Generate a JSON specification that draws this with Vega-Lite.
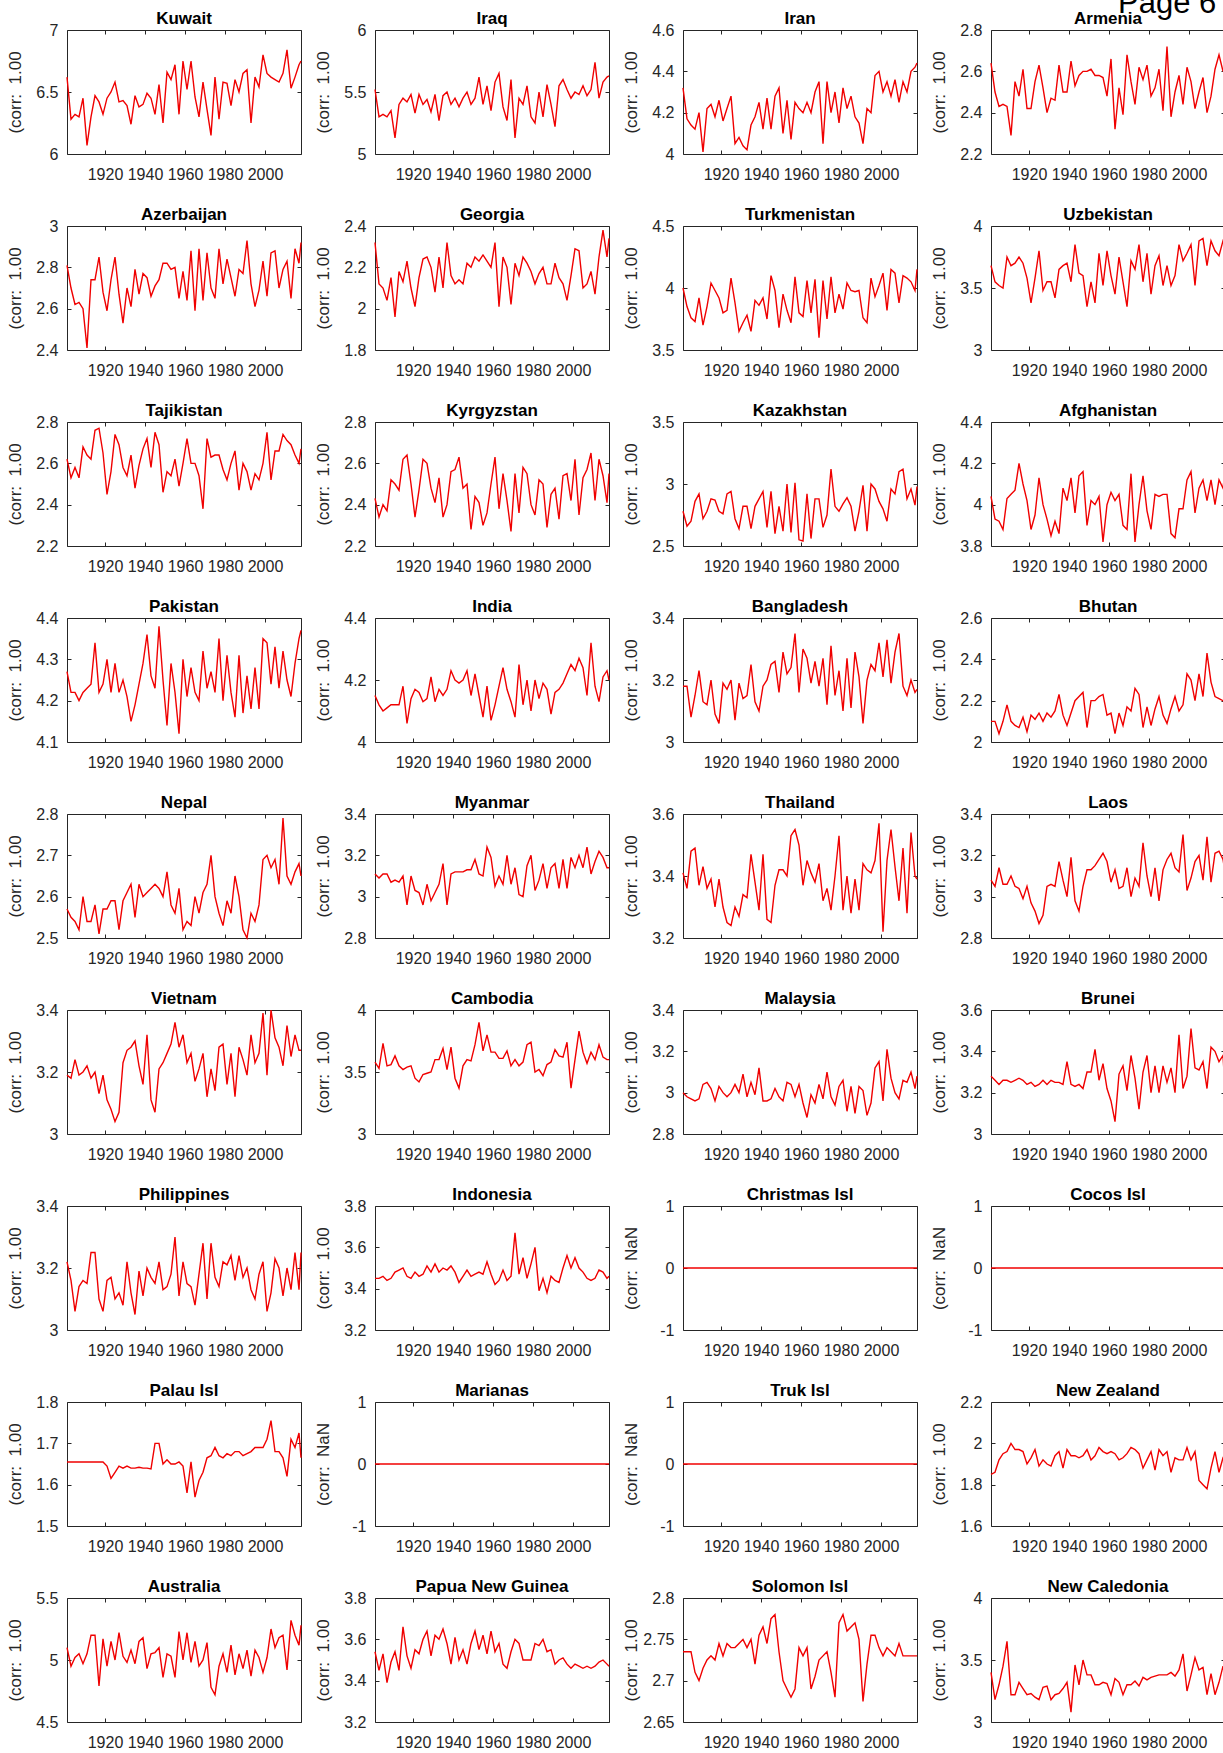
{
  "$schema": "https://vega.github.io/schema/vega-lite/v6.json",
  "padding": {"left": 5, "top": -13, "right": 0, "bottom": 0},
  "title": {"text": "Page 6", "anchor": "end", "fontSize": 31, "fontWeight": "normal", "font": "Liberation Sans", "color": "black", "baseline": "alphabetic", "offset": -5, "dx": -12, "dy": 29},
  "data": {"values": [
    {"c": "Kuwait", "y": [1901,1903,1905,1907,1909,1911,1913,1915,1917,1919,1921,1923,1925,1927,1929,1931,1933,1935,1937,1939,1941,1943,1945,1947,1949,1951,1953,1955,1957,1959,1961,1963,1965,1967,1969,1971,1973,1975,1977,1979,1981,1983,1985,1987,1989,1991,1993,1995,1997,1999,2001,2003,2005,2007,2009,2011,2013,2015,2017,2018],
     "v": [6.62,6.28,6.32,6.30,6.45,6.07,6.30,6.47,6.42,6.32,6.45,6.50,6.58,6.42,6.43,6.39,6.24,6.47,6.38,6.40,6.49,6.45,6.32,6.56,6.25,6.66,6.60,6.72,6.32,6.75,6.52,6.75,6.46,6.30,6.58,6.36,6.15,6.62,6.28,6.58,6.57,6.39,6.60,6.50,6.65,6.68,6.25,6.62,6.54,6.80,6.65,6.62,6.60,6.58,6.65,6.84,6.53,6.62,6.72,6.75]},
    {"c": "Iraq", "y": [1901,1903,1905,1907,1909,1911,1913,1915,1917,1919,1921,1923,1925,1927,1929,1931,1933,1935,1937,1939,1941,1943,1945,1947,1949,1951,1953,1955,1957,1959,1961,1963,1965,1967,1969,1971,1973,1975,1977,1979,1981,1983,1985,1987,1989,1991,1993,1995,1997,1999,2001,2003,2005,2007,2009,2011,2013,2015,2017,2018],
     "v": [5.52,5.30,5.32,5.30,5.35,5.13,5.40,5.45,5.42,5.48,5.33,5.48,5.40,5.44,5.34,5.48,5.27,5.47,5.50,5.40,5.45,5.38,5.45,5.50,5.40,5.45,5.62,5.40,5.55,5.35,5.58,5.65,5.38,5.27,5.60,5.13,5.45,5.40,5.55,5.30,5.25,5.50,5.30,5.56,5.40,5.22,5.55,5.60,5.52,5.45,5.50,5.48,5.55,5.47,5.52,5.74,5.45,5.58,5.62,5.63]},
    {"c": "Iran", "y": [1901,1903,1905,1907,1909,1911,1913,1915,1917,1919,1921,1923,1925,1927,1929,1931,1933,1935,1937,1939,1941,1943,1945,1947,1949,1951,1953,1955,1957,1959,1961,1963,1965,1967,1969,1971,1973,1975,1977,1979,1981,1983,1985,1987,1989,1991,1993,1995,1997,1999,2001,2003,2005,2007,2009,2011,2013,2015,2017,2018],
     "v": [4.32,4.17,4.14,4.12,4.20,4.01,4.22,4.24,4.18,4.26,4.16,4.22,4.28,4.05,4.08,4.04,4.02,4.14,4.18,4.25,4.12,4.27,4.12,4.28,4.32,4.10,4.26,4.07,4.25,4.22,4.20,4.25,4.20,4.30,4.35,4.05,4.35,4.20,4.30,4.15,4.32,4.22,4.28,4.18,4.15,4.05,4.22,4.20,4.38,4.40,4.30,4.35,4.28,4.36,4.25,4.35,4.30,4.40,4.42,4.44]},
    {"c": "Armenia", "y": [1901,1903,1905,1907,1909,1911,1913,1915,1917,1919,1921,1923,1925,1927,1929,1931,1933,1935,1937,1939,1941,1943,1945,1947,1949,1951,1953,1955,1957,1959,1961,1963,1965,1967,1969,1971,1973,1975,1977,1979,1981,1983,1985,1987,1989,1991,1993,1995,1997,1999,2001,2003,2005,2007,2009,2011,2013,2015,2017,2018],
     "v": [2.64,2.50,2.43,2.44,2.43,2.29,2.55,2.48,2.61,2.42,2.42,2.55,2.63,2.52,2.40,2.47,2.46,2.63,2.50,2.50,2.65,2.53,2.58,2.60,2.60,2.61,2.58,2.58,2.57,2.48,2.66,2.32,2.52,2.39,2.68,2.55,2.44,2.62,2.56,2.63,2.48,2.52,2.61,2.41,2.72,2.38,2.50,2.58,2.44,2.62,2.55,2.42,2.50,2.57,2.40,2.48,2.61,2.68,2.60,2.65]},
    {"c": "Azerbaijan", "y": [1901,1903,1905,1907,1909,1911,1913,1915,1917,1919,1921,1923,1925,1927,1929,1931,1933,1935,1937,1939,1941,1943,1945,1947,1949,1951,1953,1955,1957,1959,1961,1963,1965,1967,1969,1971,1973,1975,1977,1979,1981,1983,1985,1987,1989,1991,1993,1995,1997,1999,2001,2003,2005,2007,2009,2011,2013,2015,2017,2018],
     "v": [2.81,2.70,2.62,2.63,2.60,2.41,2.74,2.74,2.85,2.68,2.59,2.74,2.85,2.67,2.53,2.70,2.61,2.79,2.67,2.77,2.75,2.66,2.71,2.74,2.82,2.82,2.79,2.80,2.65,2.78,2.64,2.88,2.59,2.89,2.64,2.87,2.70,2.65,2.89,2.72,2.84,2.75,2.66,2.79,2.77,2.93,2.72,2.61,2.69,2.83,2.66,2.87,2.88,2.70,2.79,2.83,2.65,2.89,2.82,2.92]},
    {"c": "Georgia", "y": [1901,1903,1905,1907,1909,1911,1913,1915,1917,1919,1921,1923,1925,1927,1929,1931,1933,1935,1937,1939,1941,1943,1945,1947,1949,1951,1953,1955,1957,1959,1961,1963,1965,1967,1969,1971,1973,1975,1977,1979,1981,1983,1985,1987,1989,1991,1993,1995,1997,1999,2001,2003,2005,2007,2009,2011,2013,2015,2017,2018],
     "v": [2.32,2.12,2.10,2.04,2.15,1.96,2.18,2.13,2.23,2.10,2.01,2.15,2.24,2.25,2.20,2.08,2.25,2.10,2.32,2.16,2.12,2.14,2.12,2.22,2.20,2.25,2.23,2.26,2.23,2.20,2.32,2.01,2.25,2.20,2.02,2.22,2.16,2.25,2.22,2.18,2.12,2.17,2.20,2.12,2.12,2.22,2.15,2.12,2.04,2.16,2.29,2.28,2.10,2.12,2.18,2.07,2.25,2.38,2.25,2.34]},
    {"c": "Turkmenistan", "y": [1901,1903,1905,1907,1909,1911,1913,1915,1917,1919,1921,1923,1925,1927,1929,1931,1933,1935,1937,1939,1941,1943,1945,1947,1949,1951,1953,1955,1957,1959,1961,1963,1965,1967,1969,1971,1973,1975,1977,1979,1981,1983,1985,1987,1989,1991,1993,1995,1997,1999,2001,2003,2005,2007,2009,2011,2013,2015,2017,2018],
     "v": [4.00,3.85,3.76,3.73,3.92,3.70,3.85,4.04,3.98,3.92,3.80,3.82,4.08,3.88,3.65,3.72,3.78,3.65,3.90,3.86,3.92,3.75,4.10,3.98,3.68,3.95,3.82,3.72,4.09,3.80,3.77,4.06,3.80,4.07,3.60,4.06,3.75,4.09,3.80,3.95,3.83,4.04,3.98,3.97,3.98,3.76,3.72,4.08,3.93,4.02,4.12,3.82,4.15,4.12,3.88,4.10,4.08,4.05,3.98,4.15]},
    {"c": "Uzbekistan", "y": [1901,1903,1905,1907,1909,1911,1913,1915,1917,1919,1921,1923,1925,1927,1929,1931,1933,1935,1937,1939,1941,1943,1945,1947,1949,1951,1953,1955,1957,1959,1961,1963,1965,1967,1969,1971,1973,1975,1977,1979,1981,1983,1985,1987,1989,1991,1993,1995,1997,1999,2001,2003,2005,2007,2009,2011,2013,2015,2017,2018],
     "v": [3.68,3.55,3.52,3.50,3.75,3.68,3.70,3.75,3.70,3.58,3.38,3.58,3.80,3.48,3.55,3.55,3.42,3.65,3.68,3.70,3.55,3.85,3.62,3.60,3.35,3.55,3.38,3.78,3.52,3.80,3.60,3.45,3.75,3.55,3.35,3.72,3.65,3.85,3.55,3.78,3.45,3.68,3.76,3.52,3.68,3.52,3.60,3.85,3.72,3.78,3.85,3.52,3.88,3.90,3.68,3.88,3.80,3.76,3.88,3.85]},
    {"c": "Tajikistan", "y": [1901,1903,1905,1907,1909,1911,1913,1915,1917,1919,1921,1923,1925,1927,1929,1931,1933,1935,1937,1939,1941,1943,1945,1947,1949,1951,1953,1955,1957,1959,1961,1963,1965,1967,1969,1971,1973,1975,1977,1979,1981,1983,1985,1987,1989,1991,1993,1995,1997,1999,2001,2003,2005,2007,2009,2011,2013,2015,2017,2018],
     "v": [2.62,2.53,2.58,2.53,2.68,2.64,2.62,2.76,2.77,2.65,2.45,2.56,2.74,2.69,2.58,2.54,2.64,2.48,2.59,2.67,2.72,2.58,2.75,2.69,2.46,2.56,2.54,2.62,2.49,2.60,2.72,2.60,2.60,2.54,2.38,2.72,2.63,2.64,2.64,2.57,2.52,2.60,2.66,2.47,2.60,2.56,2.47,2.55,2.52,2.60,2.75,2.52,2.66,2.66,2.74,2.71,2.69,2.64,2.60,2.67]},
    {"c": "Kyrgyzstan", "y": [1901,1903,1905,1907,1909,1911,1913,1915,1917,1919,1921,1923,1925,1927,1929,1931,1933,1935,1937,1939,1941,1943,1945,1947,1949,1951,1953,1955,1957,1959,1961,1963,1965,1967,1969,1971,1973,1975,1977,1979,1981,1983,1985,1987,1989,1991,1993,1995,1997,1999,2001,2003,2005,2007,2009,2011,2013,2015,2017,2018],
     "v": [2.43,2.34,2.40,2.37,2.52,2.50,2.47,2.62,2.64,2.50,2.34,2.47,2.62,2.60,2.48,2.41,2.53,2.34,2.40,2.56,2.57,2.63,2.48,2.50,2.28,2.44,2.41,2.30,2.36,2.50,2.63,2.38,2.55,2.42,2.27,2.55,2.36,2.58,2.55,2.40,2.35,2.52,2.50,2.29,2.45,2.48,2.33,2.54,2.55,2.42,2.62,2.35,2.53,2.57,2.65,2.42,2.62,2.54,2.41,2.55]},
    {"c": "Kazakhstan", "y": [1901,1903,1905,1907,1909,1911,1913,1915,1917,1919,1921,1923,1925,1927,1929,1931,1933,1935,1937,1939,1941,1943,1945,1947,1949,1951,1953,1955,1957,1959,1961,1963,1965,1967,1969,1971,1973,1975,1977,1979,1981,1983,1985,1987,1989,1991,1993,1995,1997,1999,2001,2003,2005,2007,2009,2011,2013,2015,2017,2018],
     "v": [2.78,2.66,2.70,2.86,2.92,2.72,2.78,2.88,2.87,2.78,2.76,2.92,2.94,2.72,2.64,2.82,2.82,2.64,2.82,2.88,2.94,2.65,2.94,2.60,2.82,2.62,3.00,2.61,3.01,2.55,2.54,2.92,2.56,2.88,2.88,2.65,2.75,3.12,2.82,2.78,2.84,2.89,2.82,2.62,2.78,2.99,2.62,3.00,2.96,2.86,2.80,2.70,2.96,2.92,3.10,3.12,2.88,2.96,2.83,2.98]},
    {"c": "Afghanistan", "y": [1901,1903,1905,1907,1909,1911,1913,1915,1917,1919,1921,1923,1925,1927,1929,1931,1933,1935,1937,1939,1941,1943,1945,1947,1949,1951,1953,1955,1957,1959,1961,1963,1965,1967,1969,1971,1973,1975,1977,1979,1981,1983,1985,1987,1989,1991,1993,1995,1997,1999,2001,2003,2005,2007,2009,2011,2013,2015,2017,2018],
     "v": [4.04,3.93,3.92,3.88,4.03,4.05,4.07,4.20,4.10,4.02,3.88,3.95,4.13,4.00,3.93,3.85,3.92,3.86,4.08,4.02,4.13,3.96,4.14,4.16,3.90,4.02,4.00,4.04,3.82,4.00,4.06,4.02,4.05,3.90,3.88,4.15,3.82,4.00,4.14,3.97,3.88,4.05,4.04,4.05,4.05,3.86,3.84,3.98,3.98,4.12,4.16,3.96,4.08,4.12,4.02,4.12,4.00,4.12,4.08,4.16]},
    {"c": "Pakistan", "y": [1901,1903,1905,1907,1909,1911,1913,1915,1917,1919,1921,1923,1925,1927,1929,1931,1933,1935,1937,1939,1941,1943,1945,1947,1949,1951,1953,1955,1957,1959,1961,1963,1965,1967,1969,1971,1973,1975,1977,1979,1981,1983,1985,1987,1989,1991,1993,1995,1997,1999,2001,2003,2005,2007,2009,2011,2013,2015,2017,2018],
     "v": [4.27,4.22,4.22,4.20,4.22,4.23,4.24,4.34,4.22,4.24,4.30,4.22,4.29,4.22,4.25,4.21,4.15,4.19,4.24,4.29,4.36,4.26,4.23,4.38,4.25,4.14,4.29,4.22,4.12,4.30,4.21,4.28,4.22,4.20,4.32,4.23,4.27,4.22,4.35,4.20,4.31,4.22,4.16,4.31,4.17,4.26,4.18,4.28,4.18,4.35,4.34,4.24,4.33,4.23,4.32,4.25,4.21,4.29,4.35,4.37]},
    {"c": "India", "y": [1901,1903,1905,1907,1909,1911,1913,1915,1917,1919,1921,1923,1925,1927,1929,1931,1933,1935,1937,1939,1941,1943,1945,1947,1949,1951,1953,1955,1957,1959,1961,1963,1965,1967,1969,1971,1973,1975,1977,1979,1981,1983,1985,1987,1989,1991,1993,1995,1997,1999,2001,2003,2005,2007,2009,2011,2013,2015,2017,2018],
     "v": [4.15,4.12,4.10,4.11,4.12,4.12,4.12,4.18,4.06,4.14,4.17,4.16,4.13,4.14,4.21,4.13,4.17,4.15,4.17,4.23,4.20,4.19,4.20,4.23,4.15,4.22,4.15,4.08,4.18,4.07,4.12,4.18,4.24,4.17,4.13,4.08,4.25,4.12,4.20,4.10,4.20,4.14,4.19,4.17,4.09,4.16,4.17,4.19,4.22,4.25,4.23,4.27,4.24,4.15,4.32,4.18,4.13,4.21,4.23,4.20]},
    {"c": "Bangladesh", "y": [1901,1903,1905,1907,1909,1911,1913,1915,1917,1919,1921,1923,1925,1927,1929,1931,1933,1935,1937,1939,1941,1943,1945,1947,1949,1951,1953,1955,1957,1959,1961,1963,1965,1967,1969,1971,1973,1975,1977,1979,1981,1983,1985,1987,1989,1991,1993,1995,1997,1999,2001,2003,2005,2007,2009,2011,2013,2015,2017,2018],
     "v": [3.18,3.18,3.08,3.15,3.23,3.13,3.12,3.20,3.09,3.06,3.19,3.17,3.20,3.07,3.19,3.14,3.15,3.25,3.13,3.10,3.18,3.20,3.25,3.26,3.16,3.29,3.22,3.24,3.35,3.16,3.30,3.27,3.19,3.26,3.18,3.27,3.12,3.31,3.15,3.23,3.10,3.27,3.11,3.29,3.21,3.06,3.20,3.25,3.23,3.32,3.21,3.33,3.19,3.29,3.35,3.18,3.15,3.20,3.16,3.17]},
    {"c": "Bhutan", "y": [1901,1903,1905,1907,1909,1911,1913,1915,1917,1919,1921,1923,1925,1927,1929,1931,1933,1935,1937,1939,1941,1943,1945,1947,1949,1951,1953,1955,1957,1959,1961,1963,1965,1967,1969,1971,1973,1975,1977,1979,1981,1983,1985,1987,1989,1991,1993,1995,1997,1999,2001,2003,2005,2007,2009,2011,2013,2015,2017,2018],
     "v": [2.10,2.10,2.04,2.10,2.18,2.10,2.08,2.07,2.12,2.05,2.13,2.11,2.14,2.10,2.14,2.12,2.15,2.23,2.13,2.08,2.14,2.20,2.22,2.24,2.07,2.20,2.20,2.22,2.23,2.13,2.14,2.04,2.14,2.08,2.17,2.15,2.26,2.23,2.07,2.17,2.08,2.16,2.22,2.13,2.09,2.16,2.22,2.15,2.18,2.33,2.30,2.20,2.33,2.22,2.43,2.29,2.22,2.21,2.20,2.19]},
    {"c": "Nepal", "y": [1901,1903,1905,1907,1909,1911,1913,1915,1917,1919,1921,1923,1925,1927,1929,1931,1933,1935,1937,1939,1941,1943,1945,1947,1949,1951,1953,1955,1957,1959,1961,1963,1965,1967,1969,1971,1973,1975,1977,1979,1981,1983,1985,1987,1989,1991,1993,1995,1997,1999,2001,2003,2005,2007,2009,2011,2013,2015,2017,2018],
     "v": [2.57,2.55,2.54,2.52,2.60,2.54,2.54,2.58,2.51,2.57,2.57,2.59,2.59,2.52,2.59,2.61,2.63,2.55,2.63,2.60,2.61,2.62,2.63,2.62,2.60,2.66,2.58,2.56,2.62,2.52,2.54,2.53,2.60,2.56,2.61,2.63,2.70,2.60,2.56,2.53,2.59,2.56,2.65,2.60,2.52,2.50,2.56,2.54,2.58,2.69,2.70,2.67,2.69,2.63,2.79,2.65,2.63,2.66,2.68,2.65]},
    {"c": "Myanmar", "y": [1901,1903,1905,1907,1909,1911,1913,1915,1917,1919,1921,1923,1925,1927,1929,1931,1933,1935,1937,1939,1941,1943,1945,1947,1949,1951,1953,1955,1957,1959,1961,1963,1965,1967,1969,1971,1973,1975,1977,1979,1981,1983,1985,1987,1989,1991,1993,1995,1997,1999,2001,2003,2005,2007,2009,2011,2013,2015,2017,2018],
     "v": [3.11,3.09,3.11,3.11,3.07,3.08,3.07,3.10,2.96,3.10,3.03,3.02,2.96,3.06,2.98,3.02,3.06,3.16,2.96,3.11,3.12,3.12,3.12,3.13,3.13,3.18,3.11,3.10,3.24,3.19,3.05,3.10,3.06,3.20,3.06,3.14,3.01,3.00,3.15,3.20,3.03,3.08,3.16,3.04,3.14,3.16,3.04,3.18,3.04,3.19,3.14,3.20,3.14,3.24,3.11,3.17,3.22,3.19,3.14,3.14]},
    {"c": "Thailand", "y": [1901,1903,1905,1907,1909,1911,1913,1915,1917,1919,1921,1923,1925,1927,1929,1931,1933,1935,1937,1939,1941,1943,1945,1947,1949,1951,1953,1955,1957,1959,1961,1963,1965,1967,1969,1971,1973,1975,1977,1979,1981,1983,1985,1987,1989,1991,1993,1995,1997,1999,2001,2003,2005,2007,2009,2011,2013,2015,2017,2018],
     "v": [3.41,3.36,3.48,3.49,3.37,3.43,3.36,3.39,3.30,3.39,3.30,3.25,3.24,3.30,3.27,3.34,3.33,3.47,3.38,3.29,3.47,3.26,3.25,3.37,3.42,3.42,3.40,3.53,3.55,3.50,3.37,3.45,3.41,3.38,3.44,3.32,3.36,3.29,3.40,3.53,3.29,3.40,3.28,3.39,3.29,3.44,3.42,3.41,3.45,3.57,3.22,3.45,3.55,3.43,3.32,3.49,3.28,3.54,3.40,3.39]},
    {"c": "Laos", "y": [1901,1903,1905,1907,1909,1911,1913,1915,1917,1919,1921,1923,1925,1927,1929,1931,1933,1935,1937,1939,1941,1943,1945,1947,1949,1951,1953,1955,1957,1959,1961,1963,1965,1967,1969,1971,1973,1975,1977,1979,1981,1983,1985,1987,1989,1991,1993,1995,1997,1999,2001,2003,2005,2007,2009,2011,2013,2015,2017,2018],
     "v": [3.08,3.05,3.14,3.06,3.06,3.10,3.05,3.04,2.99,3.05,2.97,2.93,2.87,2.91,3.05,3.06,3.05,3.17,3.08,3.00,3.19,2.98,2.93,3.05,3.13,3.13,3.15,3.18,3.21,3.17,3.07,3.13,3.04,3.05,3.14,3.00,3.09,3.05,3.26,3.10,3.00,3.14,2.98,3.13,3.18,3.21,3.14,3.12,3.30,3.03,3.09,3.17,3.20,3.08,3.29,3.07,3.21,3.22,3.18,3.12]},
    {"c": "Vietnam", "y": [1901,1903,1905,1907,1909,1911,1913,1915,1917,1919,1921,1923,1925,1927,1929,1931,1933,1935,1937,1939,1941,1943,1945,1947,1949,1951,1953,1955,1957,1959,1961,1963,1965,1967,1969,1971,1973,1975,1977,1979,1981,1983,1985,1987,1989,1991,1993,1995,1997,1999,2001,2003,2005,2007,2009,2011,2013,2015,2017,2018],
     "v": [3.19,3.18,3.24,3.19,3.20,3.22,3.18,3.20,3.13,3.19,3.11,3.08,3.04,3.07,3.23,3.27,3.28,3.30,3.22,3.16,3.32,3.11,3.07,3.21,3.23,3.26,3.29,3.36,3.28,3.32,3.23,3.26,3.17,3.21,3.26,3.12,3.21,3.14,3.28,3.29,3.16,3.26,3.12,3.28,3.24,3.19,3.32,3.23,3.26,3.39,3.19,3.40,3.31,3.28,3.22,3.35,3.25,3.32,3.27,3.27]},
    {"c": "Cambodia", "y": [1901,1903,1905,1907,1909,1911,1913,1915,1917,1919,1921,1923,1925,1927,1929,1931,1933,1935,1937,1939,1941,1943,1945,1947,1949,1951,1953,1955,1957,1959,1961,1963,1965,1967,1969,1971,1973,1975,1977,1979,1981,1983,1985,1987,1989,1991,1993,1995,1997,1999,2001,2003,2005,2007,2009,2011,2013,2015,2017,2018],
     "v": [3.58,3.53,3.73,3.55,3.56,3.63,3.55,3.52,3.54,3.55,3.45,3.42,3.48,3.49,3.50,3.60,3.60,3.69,3.52,3.70,3.45,3.37,3.55,3.60,3.59,3.72,3.90,3.67,3.80,3.66,3.66,3.61,3.61,3.67,3.55,3.60,3.55,3.58,3.72,3.74,3.50,3.52,3.47,3.56,3.58,3.68,3.63,3.62,3.74,3.37,3.60,3.83,3.66,3.57,3.66,3.60,3.72,3.62,3.60,3.60]},
    {"c": "Malaysia", "y": [1901,1903,1905,1907,1909,1911,1913,1915,1917,1919,1921,1923,1925,1927,1929,1931,1933,1935,1937,1939,1941,1943,1945,1947,1949,1951,1953,1955,1957,1959,1961,1963,1965,1967,1969,1971,1973,1975,1977,1979,1981,1983,1985,1987,1989,1991,1993,1995,1997,1999,2001,2003,2005,2007,2009,2011,2013,2015,2017,2018],
     "v": [3.00,2.98,2.97,2.96,2.97,3.04,3.05,3.02,2.96,3.03,3.00,2.98,3.00,3.04,3.00,3.09,2.98,3.05,2.99,3.12,2.96,2.96,2.97,3.02,2.98,2.96,3.05,3.04,2.98,3.04,2.95,2.88,2.99,2.95,3.04,2.97,3.10,2.98,2.94,3.03,3.06,2.91,3.03,2.90,3.03,3.01,2.89,2.95,3.12,3.15,2.96,3.21,3.07,3.00,2.97,3.06,3.05,3.10,3.02,3.08]},
    {"c": "Brunei", "y": [1901,1903,1905,1907,1909,1911,1913,1915,1917,1919,1921,1923,1925,1927,1929,1931,1933,1935,1937,1939,1941,1943,1945,1947,1949,1951,1953,1955,1957,1959,1961,1963,1965,1967,1969,1971,1973,1975,1977,1979,1981,1983,1985,1987,1989,1991,1993,1995,1997,1999,2001,2003,2005,2007,2009,2011,2013,2015,2017,2018],
     "v": [3.28,3.26,3.24,3.26,3.26,3.25,3.26,3.27,3.26,3.24,3.25,3.23,3.24,3.26,3.24,3.26,3.25,3.25,3.24,3.35,3.24,3.23,3.24,3.22,3.30,3.30,3.41,3.26,3.34,3.22,3.16,3.06,3.29,3.33,3.21,3.38,3.27,3.12,3.30,3.38,3.20,3.33,3.20,3.33,3.25,3.32,3.20,3.48,3.22,3.28,3.51,3.32,3.31,3.35,3.22,3.42,3.40,3.35,3.38,3.22]},
    {"c": "Philippines", "y": [1901,1903,1905,1907,1909,1911,1913,1915,1917,1919,1921,1923,1925,1927,1929,1931,1933,1935,1937,1939,1941,1943,1945,1947,1949,1951,1953,1955,1957,1959,1961,1963,1965,1967,1969,1971,1973,1975,1977,1979,1981,1983,1985,1987,1989,1991,1993,1995,1997,1999,2001,2003,2005,2007,2009,2011,2013,2015,2017,2018],
     "v": [3.22,3.16,3.06,3.14,3.16,3.15,3.25,3.25,3.10,3.06,3.16,3.17,3.10,3.12,3.08,3.22,3.12,3.05,3.19,3.11,3.20,3.17,3.15,3.22,3.13,3.14,3.18,3.30,3.11,3.22,3.15,3.14,3.08,3.18,3.28,3.10,3.28,3.17,3.14,3.22,3.21,3.24,3.16,3.24,3.17,3.20,3.13,3.10,3.18,3.22,3.06,3.12,3.23,3.20,3.11,3.20,3.13,3.25,3.13,3.25]},
    {"c": "Indonesia", "y": [1901,1903,1905,1907,1909,1911,1913,1915,1917,1919,1921,1923,1925,1927,1929,1931,1933,1935,1937,1939,1941,1943,1945,1947,1949,1951,1953,1955,1957,1959,1961,1963,1965,1967,1969,1971,1973,1975,1977,1979,1981,1983,1985,1987,1989,1991,1993,1995,1997,1999,2001,2003,2005,2007,2009,2011,2013,2015,2017,2018],
     "v": [3.45,3.45,3.46,3.44,3.45,3.48,3.49,3.50,3.46,3.45,3.48,3.46,3.47,3.51,3.48,3.52,3.48,3.50,3.49,3.51,3.48,3.43,3.46,3.49,3.46,3.47,3.48,3.47,3.53,3.47,3.42,3.44,3.49,3.44,3.46,3.67,3.47,3.55,3.45,3.52,3.60,3.39,3.45,3.38,3.46,3.44,3.43,3.50,3.56,3.50,3.55,3.50,3.48,3.45,3.44,3.45,3.49,3.48,3.45,3.46]},
    {"c": "Christmas Isl", "y": [1901,2018], "v": [0,0]},
    {"c": "Cocos Isl", "y": [1901,2018], "v": [0,0]},
    {"c": "Palau Isl", "y": [1901,1903,1905,1907,1909,1911,1913,1915,1917,1919,1921,1923,1925,1927,1929,1931,1933,1935,1937,1939,1941,1943,1945,1947,1949,1951,1953,1955,1957,1959,1961,1963,1965,1967,1969,1971,1973,1975,1977,1979,1981,1983,1985,1987,1989,1991,1993,1995,1997,1999,2001,2003,2005,2007,2009,2011,2013,2015,2017,2018],
     "v": [1.655,1.655,1.655,1.655,1.655,1.655,1.655,1.655,1.655,1.655,1.645,1.615,1.63,1.645,1.64,1.645,1.64,1.64,1.642,1.64,1.64,1.638,1.70,1.70,1.65,1.66,1.65,1.65,1.655,1.645,1.58,1.655,1.57,1.61,1.63,1.665,1.67,1.69,1.67,1.665,1.675,1.67,1.68,1.68,1.67,1.675,1.68,1.69,1.69,1.69,1.71,1.755,1.68,1.68,1.665,1.62,1.71,1.69,1.725,1.665]},
    {"c": "Marianas", "y": [1901,2018], "v": [0,0]},
    {"c": "Truk Isl", "y": [1901,2018], "v": [0,0]},
    {"c": "New Zealand", "y": [1901,1903,1905,1907,1909,1911,1913,1915,1917,1919,1921,1923,1925,1927,1929,1931,1933,1935,1937,1939,1941,1943,1945,1947,1949,1951,1953,1955,1957,1959,1961,1963,1965,1967,1969,1971,1973,1975,1977,1979,1981,1983,1985,1987,1989,1991,1993,1995,1997,1999,2001,2003,2005,2007,2009,2011,2013,2015,2017,2018],
     "v": [1.85,1.86,1.92,1.95,1.96,2.00,1.97,1.97,1.96,1.90,1.93,1.97,1.89,1.92,1.90,1.89,1.94,1.96,1.88,1.97,1.94,1.94,1.93,1.94,1.97,1.92,1.94,1.98,1.96,1.95,1.96,1.95,1.92,1.93,1.95,1.98,1.97,1.95,1.88,1.92,1.96,1.87,1.97,1.94,1.96,1.86,1.93,1.92,1.92,1.98,1.92,1.96,1.82,1.80,1.78,1.88,1.96,1.86,1.93,1.95]},
    {"c": "Australia", "y": [1901,1903,1905,1907,1909,1911,1913,1915,1917,1919,1921,1923,1925,1927,1929,1931,1933,1935,1937,1939,1941,1943,1945,1947,1949,1951,1953,1955,1957,1959,1961,1963,1965,1967,1969,1971,1973,1975,1977,1979,1981,1983,1985,1987,1989,1991,1993,1995,1997,1999,2001,2003,2005,2007,2009,2011,2013,2015,2017,2018],
     "v": [5.10,4.95,5.02,5.05,4.97,5.05,5.20,5.20,4.79,5.17,4.95,5.15,5.00,5.22,5.03,4.98,5.08,4.97,5.15,5.18,4.93,5.05,5.06,5.10,4.86,5.05,5.03,4.86,5.23,5.00,5.22,4.98,5.15,4.95,5.00,5.14,4.78,4.72,4.95,5.05,4.90,5.12,4.88,5.05,4.93,5.08,4.87,5.08,5.02,4.90,5.02,5.25,5.10,5.18,5.20,4.92,5.32,5.20,5.12,5.28]},
    {"c": "Papua New Guinea", "y": [1901,1903,1905,1907,1909,1911,1913,1915,1917,1919,1921,1923,1925,1927,1929,1931,1933,1935,1937,1939,1941,1943,1945,1947,1949,1951,1953,1955,1957,1959,1961,1963,1965,1967,1969,1971,1973,1975,1977,1979,1981,1983,1985,1987,1989,1991,1993,1995,1997,1999,2001,2003,2005,2007,2009,2011,2013,2015,2017,2018],
     "v": [3.54,3.45,3.53,3.39,3.49,3.54,3.45,3.66,3.52,3.46,3.55,3.53,3.60,3.64,3.52,3.62,3.60,3.65,3.58,3.48,3.61,3.50,3.55,3.48,3.58,3.64,3.55,3.62,3.53,3.64,3.54,3.58,3.48,3.46,3.54,3.60,3.58,3.50,3.50,3.50,3.58,3.57,3.60,3.54,3.55,3.48,3.50,3.51,3.48,3.46,3.48,3.47,3.46,3.47,3.46,3.47,3.49,3.50,3.48,3.47]},
    {"c": "Solomon Isl", "y": [1901,1903,1905,1907,1909,1911,1913,1915,1917,1919,1921,1923,1925,1927,1929,1931,1933,1935,1937,1939,1941,1943,1945,1947,1949,1951,1953,1955,1957,1959,1961,1963,1965,1967,1969,1971,1973,1975,1977,1979,1981,1983,1985,1987,1989,1991,1993,1995,1997,1999,2001,2003,2005,2007,2009,2011,2013,2015,2017,2018],
     "v": [2.735,2.735,2.735,2.71,2.70,2.715,2.725,2.73,2.725,2.745,2.73,2.745,2.74,2.74,2.745,2.75,2.74,2.75,2.72,2.755,2.765,2.745,2.775,2.78,2.735,2.70,2.69,2.68,2.69,2.74,2.73,2.74,2.69,2.705,2.725,2.73,2.735,2.71,2.68,2.77,2.78,2.76,2.765,2.77,2.75,2.675,2.72,2.755,2.755,2.74,2.73,2.74,2.735,2.73,2.745,2.73,2.73,2.73,2.73,2.73]},
    {"c": "New Caledonia", "y": [1901,1903,1905,1907,1909,1911,1913,1915,1917,1919,1921,1923,1925,1927,1929,1931,1933,1935,1937,1939,1941,1943,1945,1947,1949,1951,1953,1955,1957,1959,1961,1963,1965,1967,1969,1971,1973,1975,1977,1979,1981,1983,1985,1987,1989,1991,1993,1995,1997,1999,2001,2003,2005,2007,2009,2011,2013,2015,2017,2018],
     "v": [3.40,3.18,3.30,3.45,3.65,3.22,3.22,3.32,3.27,3.22,3.23,3.20,3.18,3.28,3.29,3.18,3.22,3.23,3.27,3.32,3.08,3.46,3.30,3.50,3.38,3.38,3.30,3.30,3.32,3.31,3.22,3.35,3.32,3.22,3.30,3.30,3.33,3.29,3.36,3.34,3.36,3.37,3.38,3.38,3.38,3.40,3.37,3.42,3.55,3.25,3.38,3.52,3.42,3.44,3.22,3.39,3.22,3.32,3.45,3.36]}
  ]},
  "columns": 4,
  "spacing": {"row": 22, "column": 8},
  "concat": [
    {"title": "Kuwait", "transform": [{"filter": "datum.c == 'Kuwait'"}, {"flatten": ["y", "v"]}], "mark": "line",
     "encoding": {"x": {"field": "y", "type": "quantitative", "title": null, "scale": {"domain": [1901, 2018]}},
                  "y": {"field": "v", "type": "quantitative", "title": "(corr: \u00a01.00", "scale": {"domain": [6, 7]}, "axis": {"values": [6, 6.5, 7]}}}},
    {"title": "Iraq", "transform": [{"filter": "datum.c == 'Iraq'"}, {"flatten": ["y", "v"]}], "mark": "line",
     "encoding": {"x": {"field": "y", "type": "quantitative", "title": null, "scale": {"domain": [1901, 2018]}},
                  "y": {"field": "v", "type": "quantitative", "title": "(corr: \u00a01.00", "scale": {"domain": [5, 6]}, "axis": {"values": [5, 5.5, 6]}}}},
    {"title": "Iran", "transform": [{"filter": "datum.c == 'Iran'"}, {"flatten": ["y", "v"]}], "mark": "line",
     "encoding": {"x": {"field": "y", "type": "quantitative", "title": null, "scale": {"domain": [1901, 2018]}},
                  "y": {"field": "v", "type": "quantitative", "title": "(corr: \u00a01.00", "scale": {"domain": [4, 4.6]}, "axis": {"values": [4, 4.2, 4.4, 4.6]}}}},
    {"title": "Armenia", "transform": [{"filter": "datum.c == 'Armenia'"}, {"flatten": ["y", "v"]}], "mark": "line",
     "encoding": {"x": {"field": "y", "type": "quantitative", "title": null, "scale": {"domain": [1901, 2018]}},
                  "y": {"field": "v", "type": "quantitative", "title": "(corr: \u00a01.00", "scale": {"domain": [2.2, 2.8]}, "axis": {"values": [2.2, 2.4, 2.6, 2.8]}}}},
    {"title": "Azerbaijan", "transform": [{"filter": "datum.c == 'Azerbaijan'"}, {"flatten": ["y", "v"]}], "mark": "line",
     "encoding": {"x": {"field": "y", "type": "quantitative", "title": null, "scale": {"domain": [1901, 2018]}},
                  "y": {"field": "v", "type": "quantitative", "title": "(corr: \u00a01.00", "scale": {"domain": [2.4, 3]}, "axis": {"values": [2.4, 2.6, 2.8, 3]}}}},
    {"title": "Georgia", "transform": [{"filter": "datum.c == 'Georgia'"}, {"flatten": ["y", "v"]}], "mark": "line",
     "encoding": {"x": {"field": "y", "type": "quantitative", "title": null, "scale": {"domain": [1901, 2018]}},
                  "y": {"field": "v", "type": "quantitative", "title": "(corr: \u00a01.00", "scale": {"domain": [1.8, 2.4]}, "axis": {"values": [1.8, 2, 2.2, 2.4]}}}},
    {"title": "Turkmenistan", "transform": [{"filter": "datum.c == 'Turkmenistan'"}, {"flatten": ["y", "v"]}], "mark": "line",
     "encoding": {"x": {"field": "y", "type": "quantitative", "title": null, "scale": {"domain": [1901, 2018]}},
                  "y": {"field": "v", "type": "quantitative", "title": "(corr: \u00a01.00", "scale": {"domain": [3.5, 4.5]}, "axis": {"values": [3.5, 4, 4.5]}}}},
    {"title": "Uzbekistan", "transform": [{"filter": "datum.c == 'Uzbekistan'"}, {"flatten": ["y", "v"]}], "mark": "line",
     "encoding": {"x": {"field": "y", "type": "quantitative", "title": null, "scale": {"domain": [1901, 2018]}},
                  "y": {"field": "v", "type": "quantitative", "title": "(corr: \u00a01.00", "scale": {"domain": [3, 4]}, "axis": {"values": [3, 3.5, 4]}}}},
    {"title": "Tajikistan", "transform": [{"filter": "datum.c == 'Tajikistan'"}, {"flatten": ["y", "v"]}], "mark": "line",
     "encoding": {"x": {"field": "y", "type": "quantitative", "title": null, "scale": {"domain": [1901, 2018]}},
                  "y": {"field": "v", "type": "quantitative", "title": "(corr: \u00a01.00", "scale": {"domain": [2.2, 2.8]}, "axis": {"values": [2.2, 2.4, 2.6, 2.8]}}}},
    {"title": "Kyrgyzstan", "transform": [{"filter": "datum.c == 'Kyrgyzstan'"}, {"flatten": ["y", "v"]}], "mark": "line",
     "encoding": {"x": {"field": "y", "type": "quantitative", "title": null, "scale": {"domain": [1901, 2018]}},
                  "y": {"field": "v", "type": "quantitative", "title": "(corr: \u00a01.00", "scale": {"domain": [2.2, 2.8]}, "axis": {"values": [2.2, 2.4, 2.6, 2.8]}}}},
    {"title": "Kazakhstan", "transform": [{"filter": "datum.c == 'Kazakhstan'"}, {"flatten": ["y", "v"]}], "mark": "line",
     "encoding": {"x": {"field": "y", "type": "quantitative", "title": null, "scale": {"domain": [1901, 2018]}},
                  "y": {"field": "v", "type": "quantitative", "title": "(corr: \u00a01.00", "scale": {"domain": [2.5, 3.5]}, "axis": {"values": [2.5, 3, 3.5]}}}},
    {"title": "Afghanistan", "transform": [{"filter": "datum.c == 'Afghanistan'"}, {"flatten": ["y", "v"]}], "mark": "line",
     "encoding": {"x": {"field": "y", "type": "quantitative", "title": null, "scale": {"domain": [1901, 2018]}},
                  "y": {"field": "v", "type": "quantitative", "title": "(corr: \u00a01.00", "scale": {"domain": [3.8, 4.4]}, "axis": {"values": [3.8, 4, 4.2, 4.4]}}}},
    {"title": "Pakistan", "transform": [{"filter": "datum.c == 'Pakistan'"}, {"flatten": ["y", "v"]}], "mark": "line",
     "encoding": {"x": {"field": "y", "type": "quantitative", "title": null, "scale": {"domain": [1901, 2018]}},
                  "y": {"field": "v", "type": "quantitative", "title": "(corr: \u00a01.00", "scale": {"domain": [4.1, 4.4]}, "axis": {"values": [4.1, 4.2, 4.3, 4.4]}}}},
    {"title": "India", "transform": [{"filter": "datum.c == 'India'"}, {"flatten": ["y", "v"]}], "mark": "line",
     "encoding": {"x": {"field": "y", "type": "quantitative", "title": null, "scale": {"domain": [1901, 2018]}},
                  "y": {"field": "v", "type": "quantitative", "title": "(corr: \u00a01.00", "scale": {"domain": [4, 4.4]}, "axis": {"values": [4, 4.2, 4.4]}}}},
    {"title": "Bangladesh", "transform": [{"filter": "datum.c == 'Bangladesh'"}, {"flatten": ["y", "v"]}], "mark": "line",
     "encoding": {"x": {"field": "y", "type": "quantitative", "title": null, "scale": {"domain": [1901, 2018]}},
                  "y": {"field": "v", "type": "quantitative", "title": "(corr: \u00a01.00", "scale": {"domain": [3, 3.4]}, "axis": {"values": [3, 3.2, 3.4]}}}},
    {"title": "Bhutan", "transform": [{"filter": "datum.c == 'Bhutan'"}, {"flatten": ["y", "v"]}], "mark": "line",
     "encoding": {"x": {"field": "y", "type": "quantitative", "title": null, "scale": {"domain": [1901, 2018]}},
                  "y": {"field": "v", "type": "quantitative", "title": "(corr: \u00a01.00", "scale": {"domain": [2, 2.6]}, "axis": {"values": [2, 2.2, 2.4, 2.6]}}}},
    {"title": "Nepal", "transform": [{"filter": "datum.c == 'Nepal'"}, {"flatten": ["y", "v"]}], "mark": "line",
     "encoding": {"x": {"field": "y", "type": "quantitative", "title": null, "scale": {"domain": [1901, 2018]}},
                  "y": {"field": "v", "type": "quantitative", "title": "(corr: \u00a01.00", "scale": {"domain": [2.5, 2.8]}, "axis": {"values": [2.5, 2.6, 2.7, 2.8]}}}},
    {"title": "Myanmar", "transform": [{"filter": "datum.c == 'Myanmar'"}, {"flatten": ["y", "v"]}], "mark": "line",
     "encoding": {"x": {"field": "y", "type": "quantitative", "title": null, "scale": {"domain": [1901, 2018]}},
                  "y": {"field": "v", "type": "quantitative", "title": "(corr: \u00a01.00", "scale": {"domain": [2.8, 3.4]}, "axis": {"values": [2.8, 3, 3.2, 3.4]}}}},
    {"title": "Thailand", "transform": [{"filter": "datum.c == 'Thailand'"}, {"flatten": ["y", "v"]}], "mark": "line",
     "encoding": {"x": {"field": "y", "type": "quantitative", "title": null, "scale": {"domain": [1901, 2018]}},
                  "y": {"field": "v", "type": "quantitative", "title": "(corr: \u00a01.00", "scale": {"domain": [3.2, 3.6]}, "axis": {"values": [3.2, 3.4, 3.6]}}}},
    {"title": "Laos", "transform": [{"filter": "datum.c == 'Laos'"}, {"flatten": ["y", "v"]}], "mark": "line",
     "encoding": {"x": {"field": "y", "type": "quantitative", "title": null, "scale": {"domain": [1901, 2018]}},
                  "y": {"field": "v", "type": "quantitative", "title": "(corr: \u00a01.00", "scale": {"domain": [2.8, 3.4]}, "axis": {"values": [2.8, 3, 3.2, 3.4]}}}},
    {"title": "Vietnam", "transform": [{"filter": "datum.c == 'Vietnam'"}, {"flatten": ["y", "v"]}], "mark": "line",
     "encoding": {"x": {"field": "y", "type": "quantitative", "title": null, "scale": {"domain": [1901, 2018]}},
                  "y": {"field": "v", "type": "quantitative", "title": "(corr: \u00a01.00", "scale": {"domain": [3, 3.4]}, "axis": {"values": [3, 3.2, 3.4]}}}},
    {"title": "Cambodia", "transform": [{"filter": "datum.c == 'Cambodia'"}, {"flatten": ["y", "v"]}], "mark": "line",
     "encoding": {"x": {"field": "y", "type": "quantitative", "title": null, "scale": {"domain": [1901, 2018]}},
                  "y": {"field": "v", "type": "quantitative", "title": "(corr: \u00a01.00", "scale": {"domain": [3, 4]}, "axis": {"values": [3, 3.5, 4]}}}},
    {"title": "Malaysia", "transform": [{"filter": "datum.c == 'Malaysia'"}, {"flatten": ["y", "v"]}], "mark": "line",
     "encoding": {"x": {"field": "y", "type": "quantitative", "title": null, "scale": {"domain": [1901, 2018]}},
                  "y": {"field": "v", "type": "quantitative", "title": "(corr: \u00a01.00", "scale": {"domain": [2.8, 3.4]}, "axis": {"values": [2.8, 3, 3.2, 3.4]}}}},
    {"title": "Brunei", "transform": [{"filter": "datum.c == 'Brunei'"}, {"flatten": ["y", "v"]}], "mark": "line",
     "encoding": {"x": {"field": "y", "type": "quantitative", "title": null, "scale": {"domain": [1901, 2018]}},
                  "y": {"field": "v", "type": "quantitative", "title": "(corr: \u00a01.00", "scale": {"domain": [3, 3.6]}, "axis": {"values": [3, 3.2, 3.4, 3.6]}}}},
    {"title": "Philippines", "transform": [{"filter": "datum.c == 'Philippines'"}, {"flatten": ["y", "v"]}], "mark": "line",
     "encoding": {"x": {"field": "y", "type": "quantitative", "title": null, "scale": {"domain": [1901, 2018]}},
                  "y": {"field": "v", "type": "quantitative", "title": "(corr: \u00a01.00", "scale": {"domain": [3, 3.4]}, "axis": {"values": [3, 3.2, 3.4]}}}},
    {"title": "Indonesia", "transform": [{"filter": "datum.c == 'Indonesia'"}, {"flatten": ["y", "v"]}], "mark": "line",
     "encoding": {"x": {"field": "y", "type": "quantitative", "title": null, "scale": {"domain": [1901, 2018]}},
                  "y": {"field": "v", "type": "quantitative", "title": "(corr: \u00a01.00", "scale": {"domain": [3.2, 3.8]}, "axis": {"values": [3.2, 3.4, 3.6, 3.8]}}}},
    {"title": "Christmas Isl", "transform": [{"filter": "datum.c == 'Christmas Isl'"}, {"flatten": ["y", "v"]}], "mark": "line",
     "encoding": {"x": {"field": "y", "type": "quantitative", "title": null, "scale": {"domain": [1901, 2018]}},
                  "y": {"field": "v", "type": "quantitative", "title": "(corr: \u00a0NaN", "scale": {"domain": [-1, 1]}, "axis": {"values": [-1, 0, 1]}}}},
    {"title": "Cocos Isl", "transform": [{"filter": "datum.c == 'Cocos Isl'"}, {"flatten": ["y", "v"]}], "mark": "line",
     "encoding": {"x": {"field": "y", "type": "quantitative", "title": null, "scale": {"domain": [1901, 2018]}},
                  "y": {"field": "v", "type": "quantitative", "title": "(corr: \u00a0NaN", "scale": {"domain": [-1, 1]}, "axis": {"values": [-1, 0, 1]}}}},
    {"title": "Palau Isl", "transform": [{"filter": "datum.c == 'Palau Isl'"}, {"flatten": ["y", "v"]}], "mark": "line",
     "encoding": {"x": {"field": "y", "type": "quantitative", "title": null, "scale": {"domain": [1901, 2018]}},
                  "y": {"field": "v", "type": "quantitative", "title": "(corr: \u00a01.00", "scale": {"domain": [1.5, 1.8]}, "axis": {"values": [1.5, 1.6, 1.7, 1.8]}}}},
    {"title": "Marianas", "transform": [{"filter": "datum.c == 'Marianas'"}, {"flatten": ["y", "v"]}], "mark": "line",
     "encoding": {"x": {"field": "y", "type": "quantitative", "title": null, "scale": {"domain": [1901, 2018]}},
                  "y": {"field": "v", "type": "quantitative", "title": "(corr: \u00a0NaN", "scale": {"domain": [-1, 1]}, "axis": {"values": [-1, 0, 1]}}}},
    {"title": "Truk Isl", "transform": [{"filter": "datum.c == 'Truk Isl'"}, {"flatten": ["y", "v"]}], "mark": "line",
     "encoding": {"x": {"field": "y", "type": "quantitative", "title": null, "scale": {"domain": [1901, 2018]}},
                  "y": {"field": "v", "type": "quantitative", "title": "(corr: \u00a0NaN", "scale": {"domain": [-1, 1]}, "axis": {"values": [-1, 0, 1]}}}},
    {"title": "New Zealand", "transform": [{"filter": "datum.c == 'New Zealand'"}, {"flatten": ["y", "v"]}], "mark": "line",
     "encoding": {"x": {"field": "y", "type": "quantitative", "title": null, "scale": {"domain": [1901, 2018]}},
                  "y": {"field": "v", "type": "quantitative", "title": "(corr: \u00a01.00", "scale": {"domain": [1.6, 2.2]}, "axis": {"values": [1.6, 1.8, 2, 2.2]}}}},
    {"title": "Australia", "transform": [{"filter": "datum.c == 'Australia'"}, {"flatten": ["y", "v"]}], "mark": "line",
     "encoding": {"x": {"field": "y", "type": "quantitative", "title": null, "scale": {"domain": [1901, 2018]}},
                  "y": {"field": "v", "type": "quantitative", "title": "(corr: \u00a01.00", "scale": {"domain": [4.5, 5.5]}, "axis": {"values": [4.5, 5, 5.5]}}}},
    {"title": "Papua New Guinea", "transform": [{"filter": "datum.c == 'Papua New Guinea'"}, {"flatten": ["y", "v"]}], "mark": "line",
     "encoding": {"x": {"field": "y", "type": "quantitative", "title": null, "scale": {"domain": [1901, 2018]}},
                  "y": {"field": "v", "type": "quantitative", "title": "(corr: \u00a01.00", "scale": {"domain": [3.2, 3.8]}, "axis": {"values": [3.2, 3.4, 3.6, 3.8]}}}},
    {"title": "Solomon Isl", "transform": [{"filter": "datum.c == 'Solomon Isl'"}, {"flatten": ["y", "v"]}], "mark": "line",
     "encoding": {"x": {"field": "y", "type": "quantitative", "title": null, "scale": {"domain": [1901, 2018]}},
                  "y": {"field": "v", "type": "quantitative", "title": "(corr: \u00a01.00", "scale": {"domain": [2.65, 2.8]}, "axis": {"values": [2.65, 2.7, 2.75, 2.8]}}}},
    {"title": "New Caledonia", "transform": [{"filter": "datum.c == 'New Caledonia'"}, {"flatten": ["y", "v"]}], "mark": "line",
     "encoding": {"x": {"field": "y", "type": "quantitative", "title": null, "scale": {"domain": [1901, 2018]}},
                  "y": {"field": "v", "type": "quantitative", "title": "(corr: \u00a01.00", "scale": {"domain": [3, 4]}, "axis": {"values": [3, 3.5, 4]}}}}
  ],
  "config": {
    "view": {"stroke": "#262626", "strokeWidth": 1, "continuousWidth": 234, "continuousHeight": 124},
    "axis": {"domain": false, "ticks": false, "gridColor": "#262626", "gridOpacity": 1, "gridWidth": 1, "labelColor": "#262626", "labelFont": "Liberation Sans", "labelFontSize": 16, "titleFont": "Liberation Sans", "titleFontSize": 17, "titleFontWeight": "normal", "titleColor": "#262626"},
    "axisX": {"grid": true, "gridDash": [4, 116, 4], "tickCount": 5, "format": "d", "labelPadding": 12, "labelFlush": false},
    "axisY": {"grid": true, "gridDash": [4, 226, 4], "format": "~g", "labelPadding": 9, "titlePadding": 7, "minExtent": 36, "maxExtent": 36, "labelExpr": "replace(datum.label, '\u2212', '-')"},
    "title": {"font": "Liberation Sans", "fontSize": 17, "fontWeight": "bold", "color": "black", "offset": -6, "baseline": "alphabetic"},
    "line": {"color": "#f00000", "strokeWidth": 1.4, "clip": true}
  }
}
